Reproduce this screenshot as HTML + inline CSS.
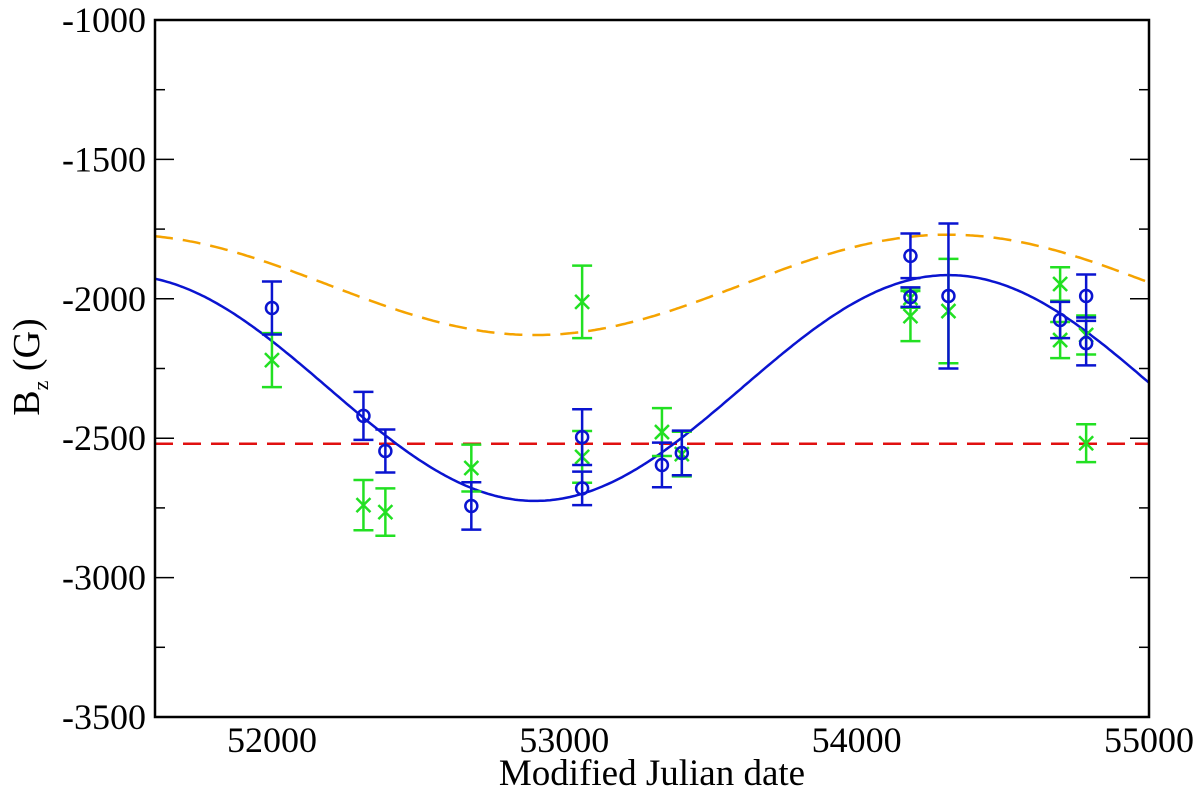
<!DOCTYPE html>
<html><head><meta charset="utf-8"><style>
html,body{margin:0;padding:0;background:#fff;}
svg{display:block;font-family:"Liberation Serif",serif;}
</style></head><body>
<svg id="chart" width="1200" height="794" viewBox="0 0 1200 794" xmlns="http://www.w3.org/2000/svg">
<g id="curves"></g>
<g id="points"></g>
<g id="axes"></g>
<text x="652" y="785" text-anchor="middle" font-size="37">Modified Julian date</text>
<text transform="translate(39,367) rotate(-90)" text-anchor="middle" font-size="38">B<tspan font-size="22" dy="9">z</tspan><tspan dy="-9"> (G)</tspan></text>
</svg>
<script>
const xTicks = [52000, 53000, 54000, 55000];
const yTicks = [-1000, -1500, -2000, -2500, -3000, -3500];
const blueX = [52000, 52313, 52388, 52682, 53061, 53061, 53334, 53402, 54184, 54184, 54314, 54696, 54785, 54785];
const blueY = [-2033, -2420, -2546, -2743, -2496, -2680, -2596, -2553, -1846, -1994, -1990, -2076, -1990, -2159];
const blueErr = [95, 86, 77, 85, 100, 60, 80, 80, 80, 35, 260, 65, 77, 80];
const greenX = [52000, 52313, 52388, 52682, 53061, 53061, 53334, 53402, 54184, 54184, 54314, 54696, 54696, 54785, 54785];
const greenY = [-2220, -2740, -2765, -2607, -2011, -2567, -2478, -2557, -1997, -2062, -2044, -1947, -2148, -2130, -2518];
const greenErr = [97, 90, 85, 84, 130, 93, 86, 80, 35, 90, 187, 60, 65, 70, 68];
// sinusoid fit parameters: [mean, amplitude, period, epoch of maximum]
const blueFit = [-2320, 405, 2828, 54314];
const orangeFit = [-1950, 180, 2828, 54314];
const redLevel = -2520;

const X0=155,X1=1149,Y0=20,Y1=717, xmin=51600,xmax=55000,ymin=-3500,ymax=-1000;
const sx=v=>X0+(v-xmin)/(xmax-xmin)*(X1-X0);
const sy=v=>Y1-(v-ymin)/(ymax-ymin)*(Y1-Y0);
const NS='http://www.w3.org/2000/svg';
function mk(tag,parent,attrs){const e=document.createElementNS(NS,tag);for(const k in attrs)e.setAttribute(k,attrs[k]);parent.appendChild(e);return e;}
const curves=document.getElementById('curves'),pts=document.getElementById('points'),axes=document.getElementById('axes');

function fitPath(p){let d='';for(let i=0;i<=400;i++){const t=xmin+(xmax-xmin)*i/400;const v=p[0]+p[1]*Math.cos(2*Math.PI*(t-p[3])/p[2]);d+=(i?'L':'M')+sx(t).toFixed(1)+','+sy(v).toFixed(1);}return d;}
let e=mk('path',curves,{d:fitPath(orangeFit),fill:'none',stroke:'#f5a300','stroke-width':2.5,'stroke-dasharray':'18,10'});


e=mk('line',curves,{x1:X0,x2:X1,y1:sy(redLevel),y2:sy(redLevel),stroke:'#e01010','stroke-width':2.5,'stroke-dasharray':'18,10'});


e=mk('path',curves,{d:fitPath(blueFit),fill:'none',stroke:'#0a14d0','stroke-width':2.5});



function errbar(g,x,y,err,col){const px=sx(x),t=sy(y+err),b=sy(y-err);
 mk('line',g,{x1:px,x2:px,y1:t,y2:b,stroke:col,'stroke-width':2.5});
 mk('line',g,{x1:px-10,x2:px+10,y1:t,y2:t,stroke:col,'stroke-width':2.5});
 mk('line',g,{x1:px-10,x2:px+10,y1:b,y2:b,stroke:col,'stroke-width':2.5});}
for(let i=0;i<greenX.length;i++){const g=mk('g',pts,{});
 
 
 errbar(g,greenX[i],greenY[i],greenErr[i],'#22e022');
 const px=sx(greenX[i]),py=sy(greenY[i]);
 mk('path',g,{d:`M${px-7},${py-7}L${px+7},${py+7}M${px-7},${py+7}L${px+7},${py-7}`,stroke:'#22e022','stroke-width':2.5});}
for(let i=0;i<blueX.length;i++){const g=mk('g',pts,{});
 
 
 errbar(g,blueX[i],blueY[i],blueErr[i],'#0a14d0');
 mk('circle',g,{cx:sx(blueX[i]),cy:sy(blueY[i]),r:6,fill:'none',stroke:'#0a14d0','stroke-width':2.5});}

e=mk('rect',axes,{x:X0,y:Y0,width:X1-X0,height:Y1-Y0,fill:'none',stroke:'#000','stroke-width':2.5});


for(let v=xmin;v<=xmax;v+=500){if(v%500)continue;const major=v%1000===0,L=major?19:10,px=sx(v);
 mk('line',axes,{x1:px,x2:px,y1:Y1,y2:Y1-L,stroke:'#000','stroke-width':1.5});
 mk('line',axes,{x1:px,x2:px,y1:Y0,y2:Y0+L,stroke:'#000','stroke-width':1.5});}
xTicks.forEach(v=>{const t=mk('text',axes,{x:sx(v),y:752,'text-anchor':'middle','font-size':36});t.textContent=v;
 
 });
for(let v=ymin;v<=ymax;v+=250){const major=v%500===0,L=major?19:10,py=sy(v);
 mk('line',axes,{x1:X0,x2:X0+L,y1:py,y2:py,stroke:'#000','stroke-width':1.5});
 mk('line',axes,{x1:X1,x2:X1-L,y1:py,y2:py,stroke:'#000','stroke-width':1.5});}
yTicks.forEach(v=>{const t=mk('text',axes,{x:146,y:sy(v)+12,'text-anchor':'end','font-size':36});t.textContent=v;
 
 });
</script>
</body></html>
